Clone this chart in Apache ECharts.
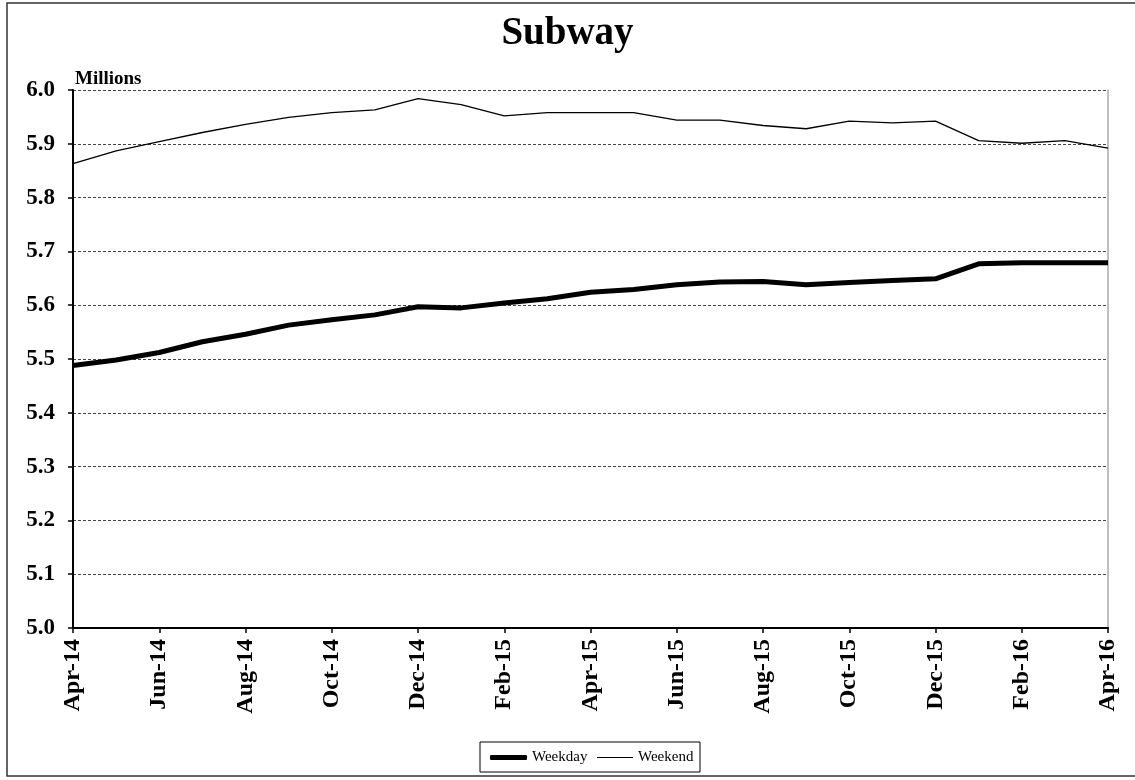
<!DOCTYPE html>
<html>
<head>
<meta charset="utf-8">
<script src="https://cdn.jsdelivr.net/npm/echarts@6/dist/echarts.min.js"></script>
<style>
  html, body { margin: 0; padding: 0; background: #fff; }
  #chart { width: 1135px; height: 780px; }
</style>
</head>
<body>
<div id="chart"></div>
<script>
// Monthly subway ridership, average per day (millions)
const months = [
  'Apr-14','May-14','Jun-14','Jul-14','Aug-14','Sep-14','Oct-14','Nov-14','Dec-14',
  'Jan-15','Feb-15','Mar-15','Apr-15','May-15','Jun-15','Jul-15','Aug-15','Sep-15',
  'Oct-15','Nov-15','Dec-15','Jan-16','Feb-16','Mar-16','Apr-16'
];
const weekday = [
  5.488, 5.498, 5.512, 5.532, 5.546, 5.563, 5.573, 5.582, 5.597,
  5.595, 5.604, 5.612, 5.624, 5.629, 5.638, 5.643, 5.644, 5.638,
  5.642, 5.646, 5.649, 5.677, 5.679, 5.679, 5.679
];
const weekend = [
  5.863, 5.887, 5.904, 5.921, 5.936, 5.949, 5.958, 5.963, 5.984,
  5.973, 5.952, 5.958, 5.958, 5.958, 5.944, 5.944, 5.934, 5.928,
  5.942, 5.939, 5.942, 5.906, 5.901, 5.906, 5.892
];
const yMin = 5.0, yMax = 6.0, yStep = 0.1;

const serif = '"Liberation Serif", "Times New Roman", serif';
const chart = echarts.init(document.getElementById('chart'));

const legendText = { fontFamily: serif, fontSize: 15, color: '#000' };

chart.setOption({
  animation: false,
  backgroundColor: '#fff',
  title: {
    text: 'Subway',
    left: 'center',
    top: 9,
    textStyle: { fontFamily: serif, fontWeight: 'bold', fontSize: 39, color: '#000' }
  },
  graphic: [
    { // frame around the chart
      type: 'rect',
      shape: { x: 7, y: 3, width: 1140, height: 773 },
      style: { fill: 'none', stroke: '#333', lineWidth: 1.5 },
      silent: true
    },
    { // legend box
      type: 'rect',
      shape: { x: 480, y: 742, width: 220, height: 30 },
      style: { fill: 'none', stroke: '#000', lineWidth: 1 },
      silent: true
    },
    {
      type: 'text',
      left: 75, top: 70,
      style: { text: 'Millions', font: 'bold 19px ' + serif, fill: '#000' }
    }
  ],
  legend: [
    {
      data: ['Weekday'],
      left: 490, top: 750,
      icon: 'roundRect',
      itemWidth: 37, itemHeight: 5,
      padding: 0,
      textStyle: legendText
    },
    {
      data: ['Weekend'],
      left: 597, top: 750,
      icon: 'rect',
      itemWidth: 36, itemHeight: 1.2,
      padding: 0,
      textStyle: legendText
    }
  ],
  grid: { left: 73, right: 27, top: 90, bottom: 152, containLabel: false },
  xAxis: {
    type: 'category',
    data: months,
    boundaryGap: false,
    axisLine: { lineStyle: { color: '#000', width: 2 } },
    axisTick: { show: true, interval: 1, length: 5, lineStyle: { color: '#000', width: 1.5 } },
    axisLabel: {
      interval: 1,
      rotate: 90,
      margin: 11,
      fontFamily: serif,
      fontWeight: 'bold',
      fontSize: 24,
      color: '#000'
    },
    splitLine: { show: false }
  },
  yAxis: [
    {
      type: 'value',
      min: yMin,
      max: yMax,
      interval: yStep,
      axisLine: { show: true, lineStyle: { color: '#000', width: 2 } },
      axisTick: { show: true, length: 5, lineStyle: { color: '#000', width: 1.5 } },
      axisLabel: {
        margin: 18,
        fontFamily: serif,
        fontWeight: 'bold',
        fontSize: 23,
        color: '#000',
        formatter: v => v.toFixed(1)
      },
      splitLine: { show: true, lineStyle: { color: '#444', width: 1, type: [3, 2] } }
    },
    {
      type: 'value',
      position: 'right',
      min: yMin,
      max: yMax,
      interval: yStep,
      axisLine: { show: true, lineStyle: { color: '#aaa', width: 1.5 } },
      axisTick: { show: false },
      axisLabel: { show: false },
      splitLine: { show: false }
    }
  ],
  series: [
    {
      name: 'Weekday',
      type: 'line',
      data: weekday,
      symbol: 'none',
      lineStyle: { color: '#000', width: 5 },
      itemStyle: { color: '#000' }
    },
    {
      name: 'Weekend',
      type: 'line',
      data: weekend,
      symbol: 'none',
      lineStyle: { color: '#000', width: 1.3 },
      itemStyle: { color: '#000' }
    }
  ]
});
</script>
</body>
</html>
